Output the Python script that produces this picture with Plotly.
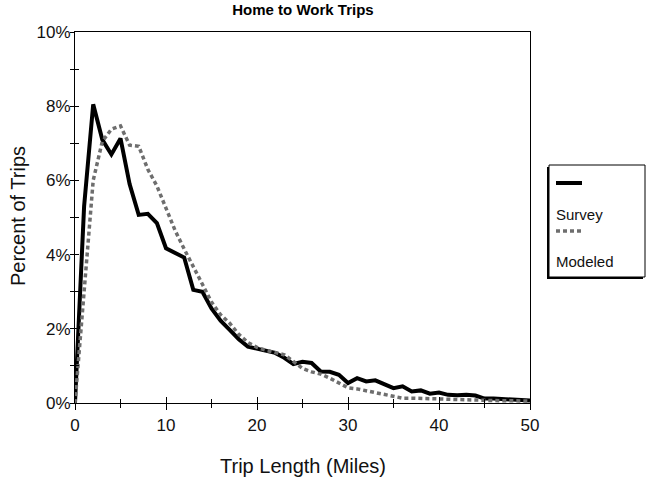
import plotly.graph_objects as go

# ---------------- data ----------------
miles = list(range(0, 51))
survey = [0.0, 5.3, 8.05, 7.1, 6.7, 7.13, 5.9, 5.07, 5.1, 4.85,
          4.17, 4.03, 3.92, 3.05, 3.0, 2.55, 2.22, 1.97, 1.72, 1.52,
          1.47, 1.42, 1.35, 1.22, 1.05, 1.11, 1.08, 0.85, 0.84, 0.76,
          0.54, 0.67, 0.58, 0.61, 0.49, 0.40, 0.45, 0.31, 0.34, 0.25,
          0.28, 0.22, 0.21, 0.22, 0.2, 0.12, 0.12, 0.11, 0.1, 0.09, 0.07]
modeled = [0.0, 3.0, 6.0, 7.05, 7.38, 7.47, 6.95, 6.92, 6.3, 5.85,
           5.25, 4.65, 4.15, 3.65, 3.2, 2.72, 2.38, 2.15, 1.85, 1.63,
           1.5, 1.42, 1.37, 1.3, 1.12, 0.93, 0.84, 0.78, 0.67, 0.55,
           0.41, 0.38, 0.33, 0.28, 0.22, 0.16, 0.13, 0.13, 0.13, 0.11,
           0.11, 0.1, 0.09, 0.08, 0.07, 0.07, 0.06, 0.06, 0.06, 0.05, 0.05]
series_names = ["Survey", "Modeled"]
x_tick_vals = [0, 10, 20, 30, 40, 50]
x_minor_vals = [5, 15, 25, 35, 45]
y_tick_vals = [0, 1, 2, 3, 4, 5, 6, 7, 8, 9, 10]
y_tick_text = ["0%", "", "2%", "", "4%", "", "6%", "", "8%", "", "10%"]

title_text = "Home to Work Trips"
x_title = "Trip Length (Miles)"
y_title = "Percent of Trips"

# ---------------- layout helpers ----------------
W, H = 648, 480
OFF = 0                      # body margin removed by post_script below
PL, PT, PW, PH = 75, 32, 455, 371   # plot area as seen in the picture
L, T = PL - OFF, PT - OFF
R, B = W - L - PW, H - T - PH


def px_x(p):
    return (p - PL) / PW


def px_y(p):
    return (PT + PH - p) / PH


FONT = "Liberation Sans, Arial, sans-serif"
BLACK = "#000000"
GRAY = "#6e6e6e"
TXT = "#111111"
FS_TICK = 17
FS_AXT = 20
FS_LEG = 15
FS_TITLE = 15

fig = go.Figure()
fig.add_trace(go.Scatter(x=miles, y=survey, mode="lines", name=series_names[0],
                         line=dict(color=BLACK, width=4), showlegend=False))
fig.add_trace(go.Scatter(x=miles, y=modeled, mode="lines", name=series_names[1],
                         line=dict(color=GRAY, width=3.5, dash="4px,3px"),
                         showlegend=False))
# empty trace so that the overlay axes (inside half of crossing ticks) render
fig.add_trace(go.Scatter(x=[], y=[], xaxis="x2", yaxis="y2", showlegend=False,
                         hoverinfo="skip"))

fig.update_layout(
    width=W, height=H,
    margin=dict(l=L, r=R, t=T, b=B, autoexpand=False),
    paper_bgcolor="white", plot_bgcolor="white",
    font=dict(family=FONT, size=FS_TICK, color=TXT),
    title=dict(text="<b>" + title_text + "</b>", x=px_x(303), xref="paper",
               xanchor="center", y=1 - (10 - OFF) / H, yref="container",
               yanchor="middle", font=dict(size=FS_TITLE, color="#000000")),
    xaxis=dict(range=[0, 50], tickmode="array", tickvals=x_tick_vals,
               ticks="outside", ticklen=6, tickwidth=1, tickcolor=BLACK,
               ticklabelstandoff=1,
               minor=dict(tickmode="array", tickvals=x_minor_vals,
                          ticks="outside", ticklen=4, tickwidth=1,
                          tickcolor=BLACK, showgrid=False),
               showline=True, linecolor=BLACK, linewidth=1, mirror=True,
               showgrid=False, zeroline=False, fixedrange=True),
    yaxis=dict(range=[0, 10], tickmode="array", tickvals=y_tick_vals,
               ticktext=y_tick_text, ticks="outside", ticklen=4, tickwidth=1,
               tickcolor=BLACK, ticklabelstandoff=-4,
               showline=True, linecolor=BLACK, linewidth=1,
               mirror=True, showgrid=False, zeroline=False, fixedrange=True),
    xaxis2=dict(range=[0, 50], overlaying="x", anchor="y", side="bottom",
                tickmode="array", tickvals=x_tick_vals, ticks="inside",
                ticklen=6, tickwidth=1, tickcolor=BLACK,
                minor=dict(tickmode="array", tickvals=x_minor_vals,
                           ticks="inside", ticklen=4, tickwidth=1,
                           tickcolor=BLACK, showgrid=False),
                showticklabels=False, showline=False, showgrid=False,
                zeroline=False, fixedrange=True),
    yaxis2=dict(range=[0, 10], overlaying="y", anchor="x", side="left",
                tickmode="array", tickvals=y_tick_vals, ticks="inside",
                ticklen=4, tickwidth=1, tickcolor=BLACK,
                showticklabels=False, showline=False, showgrid=False,
                zeroline=False, fixedrange=True),
)

annotations = [
    dict(text=x_title, x=px_x(303), y=px_y(466), xref="paper", yref="paper",
         showarrow=False, xanchor="center", yanchor="middle",
         font=dict(size=FS_AXT, color=TXT)),
    dict(text=y_title, x=px_x(18), y=px_y(216), xref="paper", yref="paper",
         showarrow=False, textangle=-90, xanchor="center", yanchor="middle",
         font=dict(size=FS_AXT, color=TXT)),
    dict(text=series_names[0], x=px_x(554), y=px_y(214), xref="paper",
         yref="paper", showarrow=False, xanchor="left", yanchor="middle",
         font=dict(size=FS_LEG, color=TXT)),
    dict(text=series_names[1], x=px_x(554), y=px_y(261), xref="paper",
         yref="paper", showarrow=False, xanchor="left", yanchor="middle",
         font=dict(size=FS_LEG, color=TXT)),
]
fig.update_layout(annotations=annotations)

# legend box with shadow
shapes = [
    dict(type="rect", xref="paper", yref="paper",
         x0=px_x(547), x1=px_x(643), y0=px_y(279), y1=px_y(167),
         line=dict(width=0), fillcolor=BLACK),
    dict(type="rect", xref="paper", yref="paper",
         x0=px_x(549), x1=px_x(645), y0=px_y(277), y1=px_y(165),
         line=dict(color=BLACK, width=1), fillcolor="white"),
    dict(type="line", xref="paper", yref="paper",
         x0=px_x(556), x1=px_x(582), y0=px_y(183), y1=px_y(183),
         line=dict(color=BLACK, width=4)),
    dict(type="line", xref="paper", yref="paper",
         x0=px_x(556), x1=px_x(582), y0=px_y(231), y1=px_y(231),
         line=dict(color=GRAY, width=3.5, dash="4px,3px")),
]
fig.update_layout(shapes=shapes)

fig.write_html("out.html",
               config={"displayModeBar": False},
               post_script="document.body.style.margin='0px';")
